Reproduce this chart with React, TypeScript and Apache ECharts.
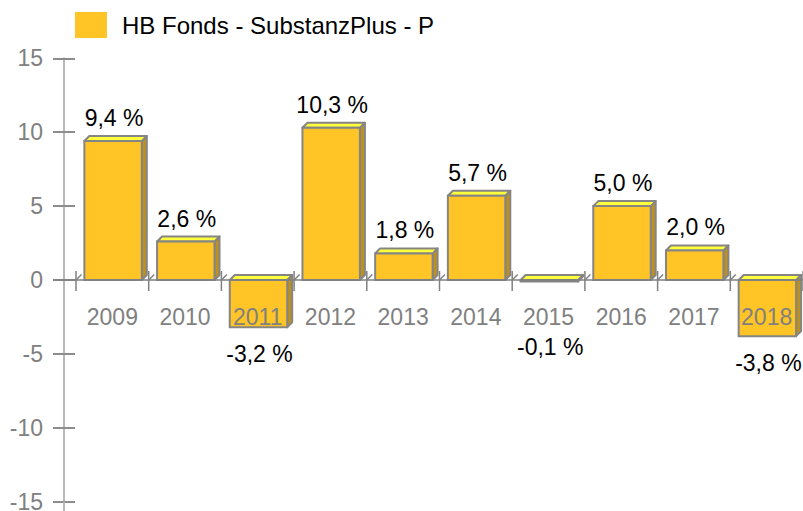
import React, { useEffect, useRef } from "react";
import * as echarts from "echarts";

const seriesName = "HB Fonds - SubstanzPlus - P";
const years = ["2009", "2010", "2011", "2012", "2013", "2014", "2015", "2016", "2017", "2018"];
const returns = [9.4, 2.6, -3.2, 10.3, 1.8, 5.7, -0.1, 5.0, 2.0, -3.8];
const yMin = -15;
const yMax = 15;
const yStep = 5;

const FONT = "'Liberation Sans', Arial, Helvetica, sans-serif";
const FRONT = "#FFC425";
const TOP = "#FFFF3C";
const SIDE = "#BE911E";
const EDGE = "#858585";
const AXIS_GRAY = "#808080";

const CHART_W = 803;
const CHART_H = 511;
const GRID_TOP = 58.3;
const GRID_BOTTOM = 9.3;
const GRID_H = CHART_H - GRID_TOP - GRID_BOTTOM;
// place the category axis on the zero line
const X_AXIS_OFFSET = -GRID_H * ((0 - yMin) / (yMax - yMin));

function fmt(v: number): string {
  return v.toFixed(1).replace(".", ",") + " %";
}

export default function App() {
  const ref = useRef<HTMLDivElement>(null);

  useEffect(() => {
    if (!ref.current) return;
    const chart = echarts.init(ref.current, undefined, { renderer: "svg" });

    const renderItem = (params: any, api: any) => {
      const idx = api.value(0);
      const val = api.value(1);
      const c = api.coord([idx, val]);
      const z = api.coord([idx, 0]);
      const band = api.size([1, 0])[0];
      const xb = c[0] - band / 2;
      const x1 = xb + band * 0.115;
      const x2 = x1 + band * 0.79;
      const dx = 5;
      const dy = 5;
      const yTop = Math.min(c[1], z[1]);
      const yBot = Math.max(c[1], z[1]);
      const children: any[] = [];
      const tickStyle = { stroke: AXIS_GRAY, lineWidth: 1.5 };

      if (params.dataIndex === 0) {
        children.push({
          type: "line",
          shape: { x1: xb - 23, y1: z[1], x2: xb, y2: z[1] },
          style: tickStyle,
        });
        const yb = api.coord([idx, yMin]);
        children.push({
          type: "line",
          shape: { x1: xb - 12, y1: yb[1], x2: xb - 12, y2: yb[1] + 10 },
          style: { stroke: "#b8b8b8", lineWidth: 2 },
        });
      }
      const bounds = [xb];
      if (params.dataIndex === returns.length - 1) bounds.push(xb + band);
      bounds.forEach((bx) => {
        children.push({
          type: "line",
          shape: { x1: bx, y1: z[1] - 9, x2: bx, y2: z[1] + 11 },
          style: tickStyle,
        });
        children.push({
          type: "line",
          shape: { x1: bx, y1: z[1], x2: bx + 5.5, y2: z[1] - 5.5 },
          style: tickStyle,
        });
      });

      children.push({
        type: "polygon",
        shape: {
          points: [
            [x2, yTop],
            [x2 + dx, yTop - dy],
            [x2 + dx, yBot - dy],
            [x2, yBot],
          ],
        },
        style: { fill: SIDE, stroke: EDGE, lineWidth: 2, lineJoin: "round" },
      });
      children.push({
        type: "polygon",
        shape: {
          points: [
            [x1, yTop],
            [x1 + dx, yTop - dy],
            [x2 + dx, yTop - dy],
            [x2, yTop],
          ],
        },
        style: { fill: TOP, stroke: EDGE, lineWidth: 2, lineJoin: "round" },
      });
      children.push({
        type: "rect",
        shape: { x: x1, y: yTop, width: x2 - x1, height: Math.max(yBot - yTop, 0.5) },
        style: { fill: FRONT, stroke: EDGE, lineWidth: 2 },
      });

      const ly = val >= 0 ? yTop - 23 : Math.max(yBot + 27, z[1] + 67);
      children.push({
        type: "text",
        style: {
          text: fmt(val),
          x: (x1 + x2) / 2 + 1,
          y: ly,
          align: "center",
          verticalAlign: "middle",
          fill: "#000",
          font: `23px ${FONT}`,
        },
      });

      return { type: "group", children };
    };

    chart.setOption({
      animation: false,
      backgroundColor: "#fff",
      textStyle: { fontFamily: FONT },
      legend: {
        data: [seriesName],
        left: 70,
        top: 7,
        icon: "rect",
        itemWidth: 32,
        itemHeight: 26,
        selectedMode: false,
        textStyle: { fontSize: 24, color: "#000", fontFamily: FONT, padding: [0, 0, 0, 10] },
      },
      grid: {
        left: 76,
        right: 0,
        top: GRID_TOP,
        bottom: GRID_BOTTOM,
        containLabel: false,
        outerBoundsMode: "none",
      },
      xAxis: {
        type: "category",
        data: years,
        position: "bottom",
        offset: X_AXIS_OFFSET,
        z: 10,
        axisLine: {
          show: true,
          onZero: false,
          lineStyle: { color: AXIS_GRAY, width: 1.5 },
        },
        axisTick: { show: false },
        axisLabel: { interval: 0, fontSize: 23, color: AXIS_GRAY, margin: 25, fontFamily: FONT },
        splitLine: { show: false },
      },
      yAxis: [
        {
          type: "value",
          min: yMin,
          max: yMax,
          interval: yStep,
          offset: 12,
          axisLine: { show: true, onZero: false, lineStyle: { color: "#b8b8b8", width: 2 } },
          axisTick: { show: true, length: 11, lineStyle: { color: "#8c8c8c", width: 2 } },
          axisLabel: { fontSize: 23, color: AXIS_GRAY, margin: 21, fontFamily: FONT },
          splitLine: { show: false },
        },
        {
          type: "value",
          position: "left",
          min: yMin,
          max: yMax,
          interval: yStep,
          offset: 12,
          axisLine: { show: false, onZero: false },
          axisTick: { show: true, inside: true, length: 11, lineStyle: { color: "#8c8c8c", width: 2 } },
          axisLabel: { show: false },
          splitLine: { show: false },
        },
      ],
      series: [
        {
          name: seriesName,
          type: "custom",
          renderItem,
          itemStyle: { color: FRONT },
          encode: { x: 0, y: 1 },
          data: returns.map((v, i) => [i, v]),
          z: 2,
        },
      ],
    });

    return () => chart.dispose();
  }, []);

  return (
    <div
      ref={ref}
      style={{ position: "absolute", left: 0, top: 0, width: CHART_W, height: CHART_H }}
    />
  );
}
